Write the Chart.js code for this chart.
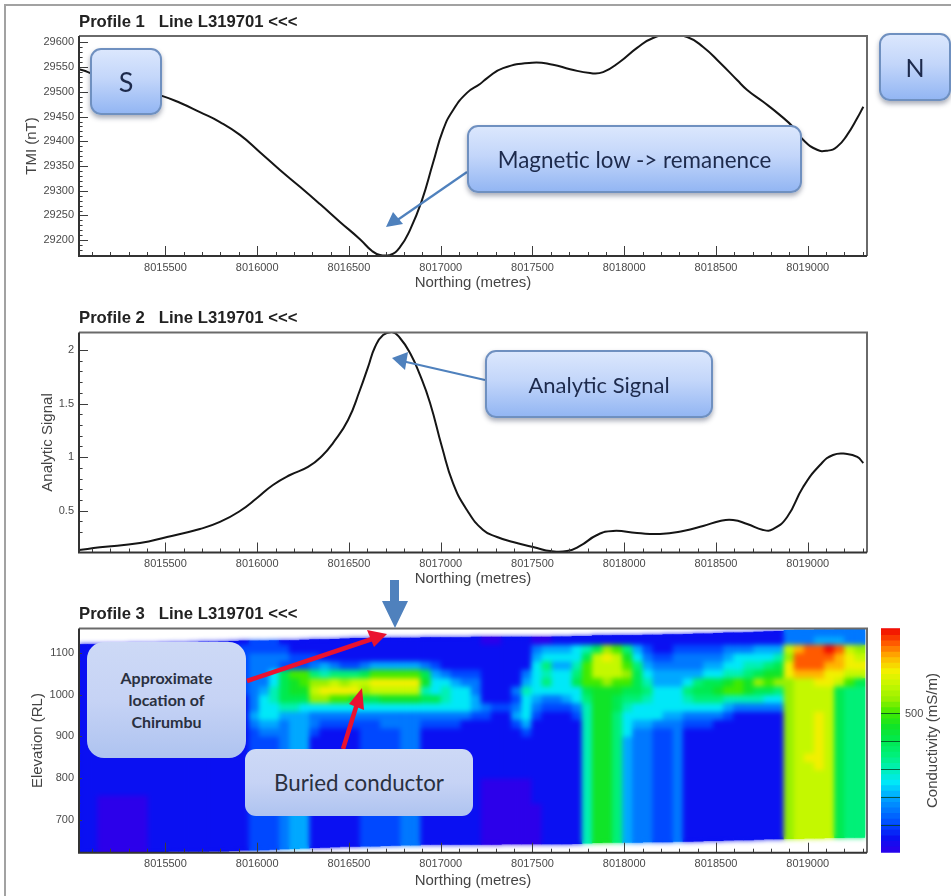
<!DOCTYPE html>
<html><head><meta charset="utf-8">
<script src="https://cdn.jsdelivr.net/npm/chart.js@4/dist/chart.umd.min.js"></script>
<style>
html,body{margin:0;padding:0;background:#fff;width:951px;height:896px;overflow:hidden}
#page{position:absolute;left:0;top:0;width:951px;height:896px;overflow:hidden;filter:blur(.45px)}
#frame{position:absolute;left:4px;top:4px;width:960px;height:910px;border:2px solid #a2a2a2}
canvas{position:absolute;left:0}
.box{position:absolute;box-sizing:border-box;display:flex;align-items:center;justify-content:center;text-align:center;
 font-family:Lato,sans-serif;color:#1d2a4c;border:2px solid #6f90c0;border-radius:11px;
 background:linear-gradient(#dbe7fd,#c3d6fa 45%,#93b6f3);box-shadow:0 3px 5px rgba(40,50,80,.4)}
.pale{border:none;border-radius:17px;background:linear-gradient(#cdd9f6,#c6d3f5 50%,#aec3f0);color:#2a3040;box-shadow:none}
svg{position:absolute;left:0;top:0}
</style></head><body>
<div id="page">
<div id="frame"></div>
<canvas id="c1" style="top:0" width="951" height="296"></canvas>
<canvas id="c2" style="top:296px" width="951" height="297"></canvas>
<canvas id="c3" style="top:593px" width="951" height="303"></canvas>
<canvas id="c4" style="top:593px;left:870px" width="81" height="303"></canvas>
<svg width="951" height="896">
 <g stroke="#4f81bd" fill="#4f81bd">
  <line x1="467" y1="172" x2="396" y2="221" stroke-width="2.2"/><polygon points="386,227 393,212 403,224" stroke="none"/>
  <line x1="485" y1="380" x2="402" y2="361" stroke-width="2.2"/><polygon points="392,358 408,352 405,370" stroke="none"/>
  <polygon points="390,580 399,580 399,601 408,601 395,628 382,601 390,601" stroke="none"/>
 </g>
 <g stroke="#ea1230" fill="#ea1230">
  <line x1="247" y1="681" x2="372" y2="639" stroke-width="4.5"/><polygon points="387,634 367,630 374,647" stroke="none"/>
  <line x1="343" y1="749" x2="357" y2="704" stroke-width="4.5"/><polygon points="362,688 349,704 364,710" stroke="none"/>
 </g>
</svg>
<div class="box" style="left:90px;top:48px;width:72px;height:67px;font-size:27px">S</div>
<div class="box" style="left:879px;top:33px;width:72px;height:68px;font-size:25px">N</div>
<div class="box" style="left:467px;top:125px;width:335px;height:68px;font-size:22.4px">Magnetic low -&gt; remanence</div>
<div class="box" style="left:485px;top:350px;width:228px;height:68px;font-size:22px">Analytic Signal</div>
<div class="box pale" style="left:87px;top:642px;width:159px;height:116px;font-size:16px;line-height:22px;font-weight:700">Approximate<br>location of<br>Chirumbu</div>
<div class="box pale" style="left:245px;top:749px;width:228px;height:67px;font-size:22.3px;border-radius:11px">Buried conductor</div>
</div>
<script>
// ---------- data ----------
const northingTicks=[8015100,8015200,8015300,8015400,8015500,8015600,8015700,8015800,8015900,8016000,8016100,8016200,8016300,8016400,8016500,8016600,8016700,8016800,8016900,8017000,8017100,8017200,8017300,8017400,8017500,8017600,8017700,8017800,8017900,8018000,8018100,8018200,8018300,8018400,8018500,8018600,8018700,8018800,8018900,8019000,8019100,8019200,8019300];
const colorbarTicks=[100,200,300,400,500];
const tmiNorthing=[8015029,8015078,8015143,8015252,8015361,8015481,8015579,8015688,8015797,8015906,8016015,8016124,8016233,8016342,8016451,8016560,8016626,8016669,8016724,8016778,8016833,8016898,8016958,8017013,8017067,8017143,8017214,8017253,8017340,8017498,8017612,8017705,8017814,8017885,8017977,8018070,8018157,8018250,8018343,8018430,8018522,8018615,8018670,8018757,8018849,8018920,8018975,8019051,8019106,8019160,8019215,8019270,8019303];
const tmiValues=[29546,29540,29530,29516,29504,29492,29478,29459,29439,29413,29378,29342,29308,29273,29237,29202,29178,29170,29170,29186,29221,29281,29356,29423,29463,29498,29516,29528,29548,29559,29555,29546,29538,29540,29561,29589,29609,29615,29611,29591,29559,29524,29504,29480,29453,29429,29403,29383,29381,29389,29413,29447,29470];
const asNorthing=[8015029,8015143,8015361,8015509,8015688,8015797,8015906,8015999,8016086,8016179,8016277,8016353,8016413,8016495,8016560,8016604,8016642,8016686,8016735,8016778,8016833,8016887,8016942,8017007,8017067,8017143,8017231,8017307,8017394,8017525,8017596,8017689,8017759,8017852,8017939,8018070,8018195,8018321,8018430,8018522,8018593,8018670,8018757,8018811,8018888,8018975,8019067,8019138,8019215,8019270,8019303];
const asValues=[0.133,0.158,0.199,0.255,0.329,0.395,0.497,0.618,0.74,0.833,0.908,1.01,1.131,1.346,1.626,1.84,2.027,2.139,2.167,2.111,1.971,1.766,1.505,1.094,0.758,0.506,0.32,0.255,0.208,0.152,0.124,0.124,0.171,0.273,0.311,0.292,0.283,0.311,0.357,0.404,0.413,0.376,0.32,0.329,0.441,0.721,0.926,1.02,1.029,1.001,0.945];
const cellNorthing=[8015048,8015103,8015158,8015213,8015268,8015323,8015378,8015433,8015488,8015543,8015598,8015653,8015708,8015763,8015818,8015873,8015928,8015983,8016038,8016093,8016148,8016203,8016258,8016313,8016368,8016423,8016478,8016533,8016588,8016643,8016698,8016753,8016808,8016863,8016918,8016973,8017028,8017083,8017138,8017193,8017248,8017303,8017358,8017413,8017468,8017523,8017578,8017633,8017688,8017743,8017798,8017853,8017908,8017963,8018018,8018073,8018128,8018183,8018238,8018293,8018348,8018403,8018458,8018513,8018568,8018623,8018678,8018733,8018788,8018843,8018898,8018953,8019008,8019063,8019118,8019173,8019228,8019283];
const surfaceElevation=[1120,1120,1120,1121,1121,1122,1122,1122,1123,1124,1124,1125,1126,1126,1127,1128,1129,1129,1129,1130,1130,1130,1131,1132,1132,1133,1134,1135,1135,1136,1136,1136,1136,1136,1137,1137,1137,1137,1137,1138,1138,1138,1138,1138,1138,1138,1138,1139,1139,1140,1140,1141,1141,1142,1142,1142,1143,1143,1144,1144,1145,1146,1146,1147,1148,1148,1149,1150,1151,1152,1154,1155,1155,1156,1156,1157,1157,1157];
const baseElevation=[622,622,622,622,622,622,622,622,622,624,624,624,624,625,625,626,627,627,628,629,630,631,632,633,634,635,636,636,637,637,638,639,640,640,641,641,641,641,641,641,641,641,642,642,642,642,642,642,642,643,644,645,646,646,646,646,647,647,647,648,648,649,650,650,651,652,652,653,654,654,655,655,656,656,657,657,658,658];
const rowElevation=[1150,1130,1110,1090,1070,1050,1030,1010,990,970,950,930,910,890,870,850,830,810,790,770,750,730,710,690,670,650,630];
// one character per cell; each step of the level code is 50 mS/m
const levelCode="0123456789abcdefg";
const conductivityRows=[
"1111111111 1111111111 1111111111 1111111111 1111111111 1111111111 1111111111 33333333",
"1111111111 1111111222 1111111111 1111111111 0011100111 1111111111 1111111111 33344433",
"1111111111 1111112222 2111111111 1111111111 1111134445 68ba742112 2222333444 ceffgfcb",
"1111111111 1111112333 3222111111 1111111111 1111145555 8cdc953223 3333455556 bffffedc",
"1111111111 1111112333 2223432234 4444321111 1111157446 accca74333 3344556678 dfffeedd",
"1111111111 1111112335 8aa767778a aaaa843222 1111356557 acccb85444 4455667899 deeeddcc",
"1111111111 1111112335 89abbcbccd dddd955433 1111457558 aabaa86444 57889a9bab bccddca8",
"1111111111 1111112346 899cddddbc cccc656553 1113655555 8999887555 7889aa9887 bcccc877",
"1111111111 1111111356 888bbaa988 9999886554 1112543345 7998776555 6777666655 bcccc877",
"1111111111 1111111355 6655555555 5555555554 3223532223 6998655555 5555433333 bcccc877",
"1111111111 1111111455 4443333333 3333333332 2114521112 6997555544 3333211111 bccdc877",
"1111111111 1111111344 3443222222 3333222211 1112411111 6997544333 2221111111 bccdc877",
"1111111111 1111111233 3442111122 2233111111 1111211111 6997533223 1111111111 bccdc877",
"1111111111 1111111222 3441111122 2233111111 1111111111 6997433223 1111111111 bccdc877",
"1111111111 1111111222 3441111122 2233111111 1111111111 6997433223 1111111111 bccdc877",
"1111111111 1111111222 3441111122 2233111111 1111111111 6997433223 1111111111 bcddc877",
"1111111111 1111111222 3441111122 2233111111 1111111111 6997433223 1111111111 bccdc877",
"1111111111 1111111222 3441111122 2233111111 1111111111 6997433223 1111111111 bcccc877",
"1111111111 1111111222 3441111122 2233111111 0000011111 6997433223 1111111111 bcccc877",
"1111111111 1111111222 3441111122 2233111111 0000011111 6997433223 1111111111 bcccc877",
"1100000111 1111111222 3441111122 2233111111 0000011111 6997433223 1111111111 bcccc877",
"1100000111 1111111222 3441111122 2233111111 0000001111 6997433223 1111111111 bcccc877",
"1100000111 1111111222 3441111122 2233111111 0000001111 6997433223 1111111111 bcccc877",
"1100000111 1111111222 3441111122 2233111111 0000001111 6997433223 1111111111 bcccc877",
"1100000111 1111111222 3441111122 2233111111 0000001111 6997433223 1111111111 bcccc877",
"1100000111 1111111222 3441111122 2233111111 0000001111 6997433223 1111111111 bcccc877",
"1100000111 1111111222 3441111122 2233111111 0000001111 6997433223 1111111111 bcccc877"
];
const colorStopValues=[0,50,100,150,200,250,300,350,400,450,500,550,600,650,700,750,806];
const colorStopColours=["#2c00ea","#0a10f2","#0048ff","#0078ff","#00a8ff","#00e8f8","#00f0b4","#00f078","#00ea50","#10e428","#40ea00","#98f000","#c4f800","#f2f000","#ffb400","#ff5a00","#ee0000"];
const colorbarLevels=[0,20,40,60,80,100,120,140,160,180,200,220,240,260,280,300,320,340,360,380,400,420,440,460,480,500,520,540,560,580,600,620,640,660,680,700,720,740,760,780,800];
const xTitle="Northing (metres)";
const colorbarTitle="Conductivity (mS/m)";
// ---------- helpers ----------
function rgb(h){return [1,3,5].map(i=>parseInt(h.substr(i,2),16));}
function colourOf(v){
  let i=0;while(i<colorStopValues.length-2&&v>colorStopValues[i+1])i++;
  const t=Math.max(0,Math.min(1,(v-colorStopValues[i])/(colorStopValues[i+1]-colorStopValues[i])));
  const a=rgb(colorStopColours[i]),b=rgb(colorStopColours[i+1]);
  return `rgb(${a.map((c,k)=>Math.round(c+(b[k]-c)*t)).join(',')})`;
}
const isMult=(v,m)=>Math.abs(v/m-Math.round(v/m))<1e-6;
const frameAndTicks={id:'frameAndTicks',
  afterDatasetsDraw(chart,a,o){
    if(!o.smooth)return;
    const A=chart.chartArea,ctx=chart.ctx;ctx.save();
    ctx.beginPath();ctx.rect(A.left,A.top,A.right-A.left,A.bottom-A.top);ctx.clip();
    ctx.filter='blur('+o.smooth+'px)';ctx.drawImage(chart.canvas,0,0);ctx.restore();
  },
  afterDraw(chart,a,o){
    const A=chart.chartArea,ctx=chart.ctx;ctx.save();
    if(o.bar){ // colour bar: dark rules across the bar, title reading upwards
      ctx.strokeStyle='rgba(0,70,30,.8)';ctx.lineWidth=1;
      chart.scales.y.ticks.forEach(t=>{const y=Math.round(chart.scales.y.getPixelForValue(t.value))+.5;
        ctx.beginPath();ctx.moveTo(A.left,y);ctx.lineTo(A.right,y);ctx.stroke();});
      ctx.translate(63,(A.top+A.bottom)/2);ctx.rotate(-Math.PI/2);
      ctx.fillStyle='#444';ctx.font='15px "Liberation Sans",Arial,sans-serif';ctx.textAlign='center';ctx.textBaseline='middle';
      ctx.fillText(colorbarTitle,0,0);
      ctx.restore();return;
    }
    ctx.strokeStyle='#3c3c3c';ctx.lineWidth=1;
    chart.scales.x.ticks.forEach(t=>{const m=isMult(t.value,500);
      const x=Math.round(chart.scales.x.getPixelForValue(t.value))+.5;
      ctx.beginPath();ctx.moveTo(x,A.bottom);ctx.lineTo(x,A.bottom-(m?10:4));ctx.stroke();});
    chart.scales.y.ticks.forEach(t=>{if(!isMult(t.value,o.yMinor))return;const m=isMult(t.value,o.yMajor);
      const y=Math.round(chart.scales.y.getPixelForValue(t.value))+.5;
      ctx.beginPath();ctx.moveTo(A.left,y);ctx.lineTo(A.left+(m?o.yLen:o.yLen*.4),y);ctx.stroke();});
    ctx.strokeStyle='#6a6a6a';ctx.lineWidth=2;
    ctx.beginPath();ctx.moveTo(A.left,A.top);ctx.lineTo(A.right,A.top);ctx.lineTo(A.right,A.bottom);ctx.stroke();
    ctx.strokeStyle='#333';
    ctx.beginPath();ctx.moveTo(A.left,A.top);ctx.lineTo(A.left,A.bottom);ctx.lineTo(A.right,A.bottom);ctx.stroke();
    ctx.restore();
  },
  afterLayout(chart){ if(chart.titleBlock) chart.titleBlock.left=79; }
};
Chart.register(frameAndTicks);
Chart.defaults.font.family='"Liberation Sans",Arial,sans-serif';
Chart.defaults.animation=false;
const tickFont={size:11},axisFont={size:15};
function opts(p){return {
  responsive:false,devicePixelRatio:1,
  layout:{padding:{left:p.axisLeft,right:84,top:p.top,bottom:p.pb}},
  plugins:{legend:{display:false},tooltip:{enabled:false},
    title:{display:true,text:p.title,align:'start',color:'#222',font:{size:16.7,weight:'bold'},padding:{top:0,bottom:4}},
    frameAndTicks:{yMajor:p.yMajor,yMinor:p.yMinor,yLen:p.yLen,smooth:p.smooth||0}},
  scales:{
    x:{type:'linear',min:8015029,max:8019323,offset:false,grid:{display:false,drawTicks:false},border:{display:false},
      afterBuildTicks(s){s.ticks=northingTicks.map(value=>({value}));},
      afterFit(s){s.height=p.xh;},
      title:{display:true,text:xTitle,color:'#444',font:axisFont,padding:0},
      ticks:{autoSkip:false,maxRotation:0,minRotation:0,padding:5,color:'#4a4a4a',font:tickFont,
        callback:v=>isMult(v,500)?String(v):''}},
    y:{type:'linear',min:p.ymin,max:p.ymax,grid:{display:false,drawTicks:false},border:{display:false},
      afterFit(s){s.width=79-p.axisLeft;},
      title:{display:true,text:p.yTitle,color:'#444',font:axisFont,padding:0},
      ticks:{stepSize:p.yMinor,maxTicksLimit:1000,autoSkip:false,padding:5,color:'#4a4a4a',font:tickFont,
        callback:v=>isMult(v,p.yMajor)?String(+v.toFixed(2)):''}}
  }};}
const toPts=(xs,ys)=>xs.map((x,i)=>({x,y:ys[i]}));
const lineDs=(xs,ys)=>[{data:toPts(xs,ys),borderColor:'#151515',borderWidth:2,pointRadius:0,tension:0.5}];
new Chart(document.getElementById('c1'),{type:'line',data:{datasets:lineDs(tmiNorthing,tmiValues)},
  options:opts({title:'Profile 1   Line L319701 <<<',yTitle:'TMI (nT)',axisLeft:23,top:12,pb:4,xh:36,ymin:29168,ymax:29613,yMajor:50,yMinor:10,yLen:9})});
new Chart(document.getElementById('c2'),{type:'line',data:{datasets:lineDs(asNorthing,asValues)},
  options:opts({title:'Profile 2   Line L319701 <<<',yTitle:'Analytic Signal',axisLeft:39,top:12.4,pb:5,xh:35.5,ymin:0.11,ymax:2.163,yMajor:0.5,yMinor:0.1,yLen:9})});
// conductivity section: one dataset per elevation row, one floating bar per cell
const cleanRows=conductivityRows.map(r=>r.replace(/ /g,''));
const sectionSets=rowElevation.map((e,r)=>{
  const data=[],colours=[];
  cellNorthing.forEach((n,k)=>{
    const hi=Math.min(e+11,surfaceElevation[k]),lo=Math.max(e-11,baseElevation[k]);
    if(hi<=lo)return;
    data.push({x:n,y:[lo,hi]});
    colours.push(colourOf(levelCode.indexOf(cleanRows[r][k])*50));
  });
  return {label:String(e),data,backgroundColor:colours,grouped:false,barPercentage:1.06,categoryPercentage:1,borderWidth:0};
});
new Chart(document.getElementById('c3'),{type:'bar',data:{datasets:sectionSets},
  options:opts({title:'Profile 3   Line L319701 <<<',yTitle:'Elevation (RL)',axisLeft:29,top:11.4,pb:6,xh:37.3,ymin:622,ymax:1158,yMajor:100,yMinor:20,yLen:3,smooth:2.6})});
// colour bar
const barSets=colorbarLevels.map(v=>({data:[[v,v+21]],backgroundColor:colourOf(v+10),grouped:false,barPercentage:1,categoryPercentage:1,borderWidth:0}));
new Chart(document.getElementById('c4'),{type:'bar',data:{labels:['Conductivity'],datasets:barSets},
  options:{responsive:false,devicePixelRatio:1,
    layout:{padding:{left:11,right:9.6,top:35.3,bottom:43.3}},
    plugins:{legend:{display:false},tooltip:{enabled:false},frameAndTicks:{bar:true}},
    scales:{x:{display:false},
      y:{position:'right',min:0,max:806,grid:{display:false,drawTicks:false},border:{display:false},
        afterBuildTicks(s){s.ticks=colorbarTicks.map(value=>({value}));},
        afterFit(s){s.width=41.4;},
        ticks:{autoSkip:false,padding:5,color:'#4a4a4a',font:tickFont,callback:v=>v===500?'500':''}}}}});
</script>
</body></html>
